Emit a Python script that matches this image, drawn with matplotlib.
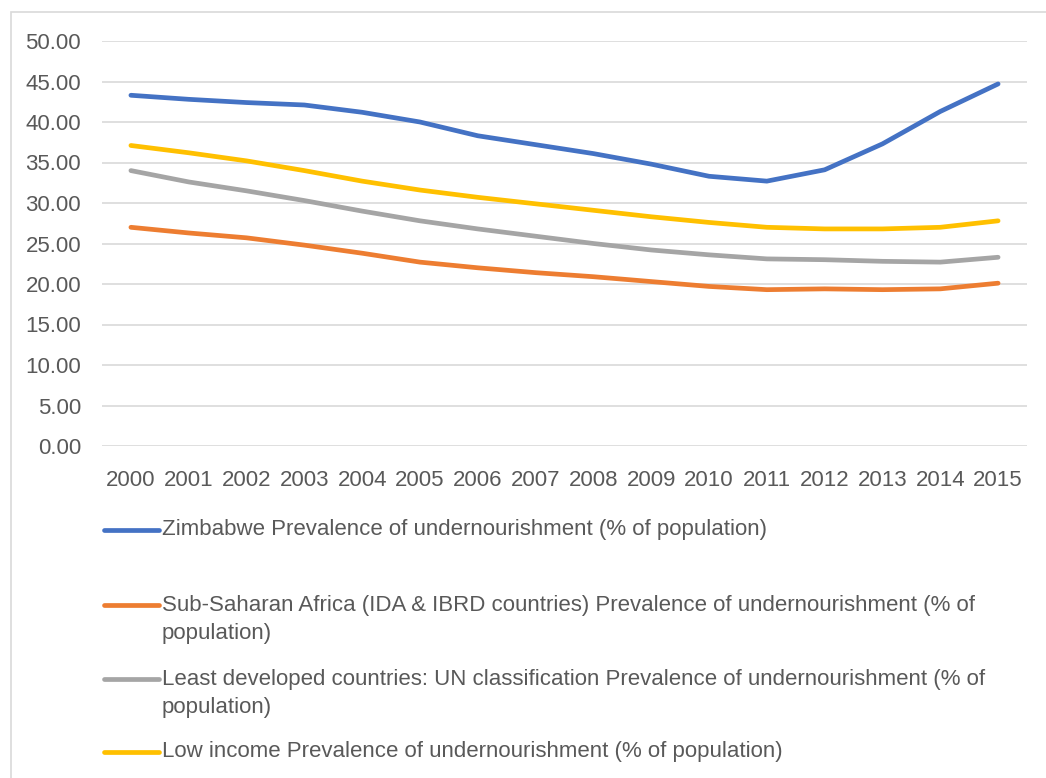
import matplotlib.pyplot as plt
from matplotlib.lines import Line2D
from matplotlib.patches import Rectangle
from matplotlib.ticker import FormatStrFormatter
import numpy as np

plt.rcParams['font.family'] = ['Liberation Sans', 'DejaVu Sans']

years = [str(y) for y in range(2000, 2016)]

zimbabwe = [43.3, 42.8, 42.4, 42.1, 41.2, 40.0, 38.3, 37.2, 36.1, 34.8, 33.3, 32.7, 34.1, 37.3, 41.3, 44.7]
ssa = [27.0, 26.3, 25.7, 24.8, 23.8, 22.7, 22.0, 21.4, 20.9, 20.3, 19.7, 19.3, 19.4, 19.3, 19.4, 20.1]
ldc = [34.0, 32.6, 31.5, 30.3, 29.0, 27.8, 26.8, 25.9, 25.0, 24.2, 23.6, 23.1, 23.0, 22.8, 22.7, 23.3]
low_income = [37.1, 36.2, 35.2, 34.0, 32.7, 31.6, 30.7, 29.9, 29.1, 28.3, 27.6, 27.0, 26.8, 26.8, 27.0, 27.8]

series_names = [
    "Zimbabwe Prevalence of undernourishment (% of population)",
    "Sub-Saharan Africa (IDA & IBRD countries) Prevalence of undernourishment (% of\npopulation)",
    "Least developed countries: UN classification Prevalence of undernourishment (% of\npopulation)",
    "Low income Prevalence of undernourishment (% of population)",
]
colors = ['#4472C4', '#ED7D31', '#A5A5A5', '#FFC000']
text_color = '#595959'

W, H = 1046, 778
fig = plt.figure(figsize=(W / 100, H / 100), dpi=100)
ax = fig.add_axes([102 / W, 1 - 446 / H, (1027 - 102) / W, (446 - 41) / H])

x = np.arange(len(years))
for vals, c in zip([zimbabwe, ssa, ldc, low_income], colors):
    ax.plot(x, vals, color=c, linewidth=3.4, solid_capstyle='round', solid_joinstyle='round')

ax.set_xlim(-0.5, len(years) - 0.5)
ax.set_ylim(0, 50)
ax.set_yticks(np.arange(0, 50.1, 5))
ax.yaxis.set_major_formatter(FormatStrFormatter('%.2f'))
ax.set_xticks(x)
ax.set_xticklabels(years)
ax.grid(axis='y', color='#D9D9D9', linewidth=1.2)
ax.set_axisbelow(True)
for s in ax.spines.values():
    s.set_visible(False)
ax.tick_params(axis='both', length=0, labelsize=16, labelcolor=text_color)
ax.tick_params(axis='y', pad=15)
ax.tick_params(axis='x', pad=17)

# chart border
fig.add_artist(Rectangle((11 / W, -0.05), 1.1, 1 - 12 / H + 0.05, transform=fig.transFigure,
                         fill=False, edgecolor='#D9D9D9', linewidth=1.2))

# legend laid out like the Excel one (centre y of each text block, in pixels)
legend_y = [530, 619.5, 693.5, 752]
for name, c, yy in zip(series_names, colors, legend_y):
    line_y = yy - 14.5 if '\n' in name else yy
    fig.add_artist(Line2D([104 / W, 159 / W], [1 - line_y / H] * 2,
                          transform=fig.transFigure, color=c, linewidth=3.4, solid_capstyle='round'))
    fig.text(162 / W, 1 - yy / H, name, fontsize=16, color=text_color, va='center', ha='left',
             linespacing=1.4)

fig.savefig('out.png', dpi=100)
